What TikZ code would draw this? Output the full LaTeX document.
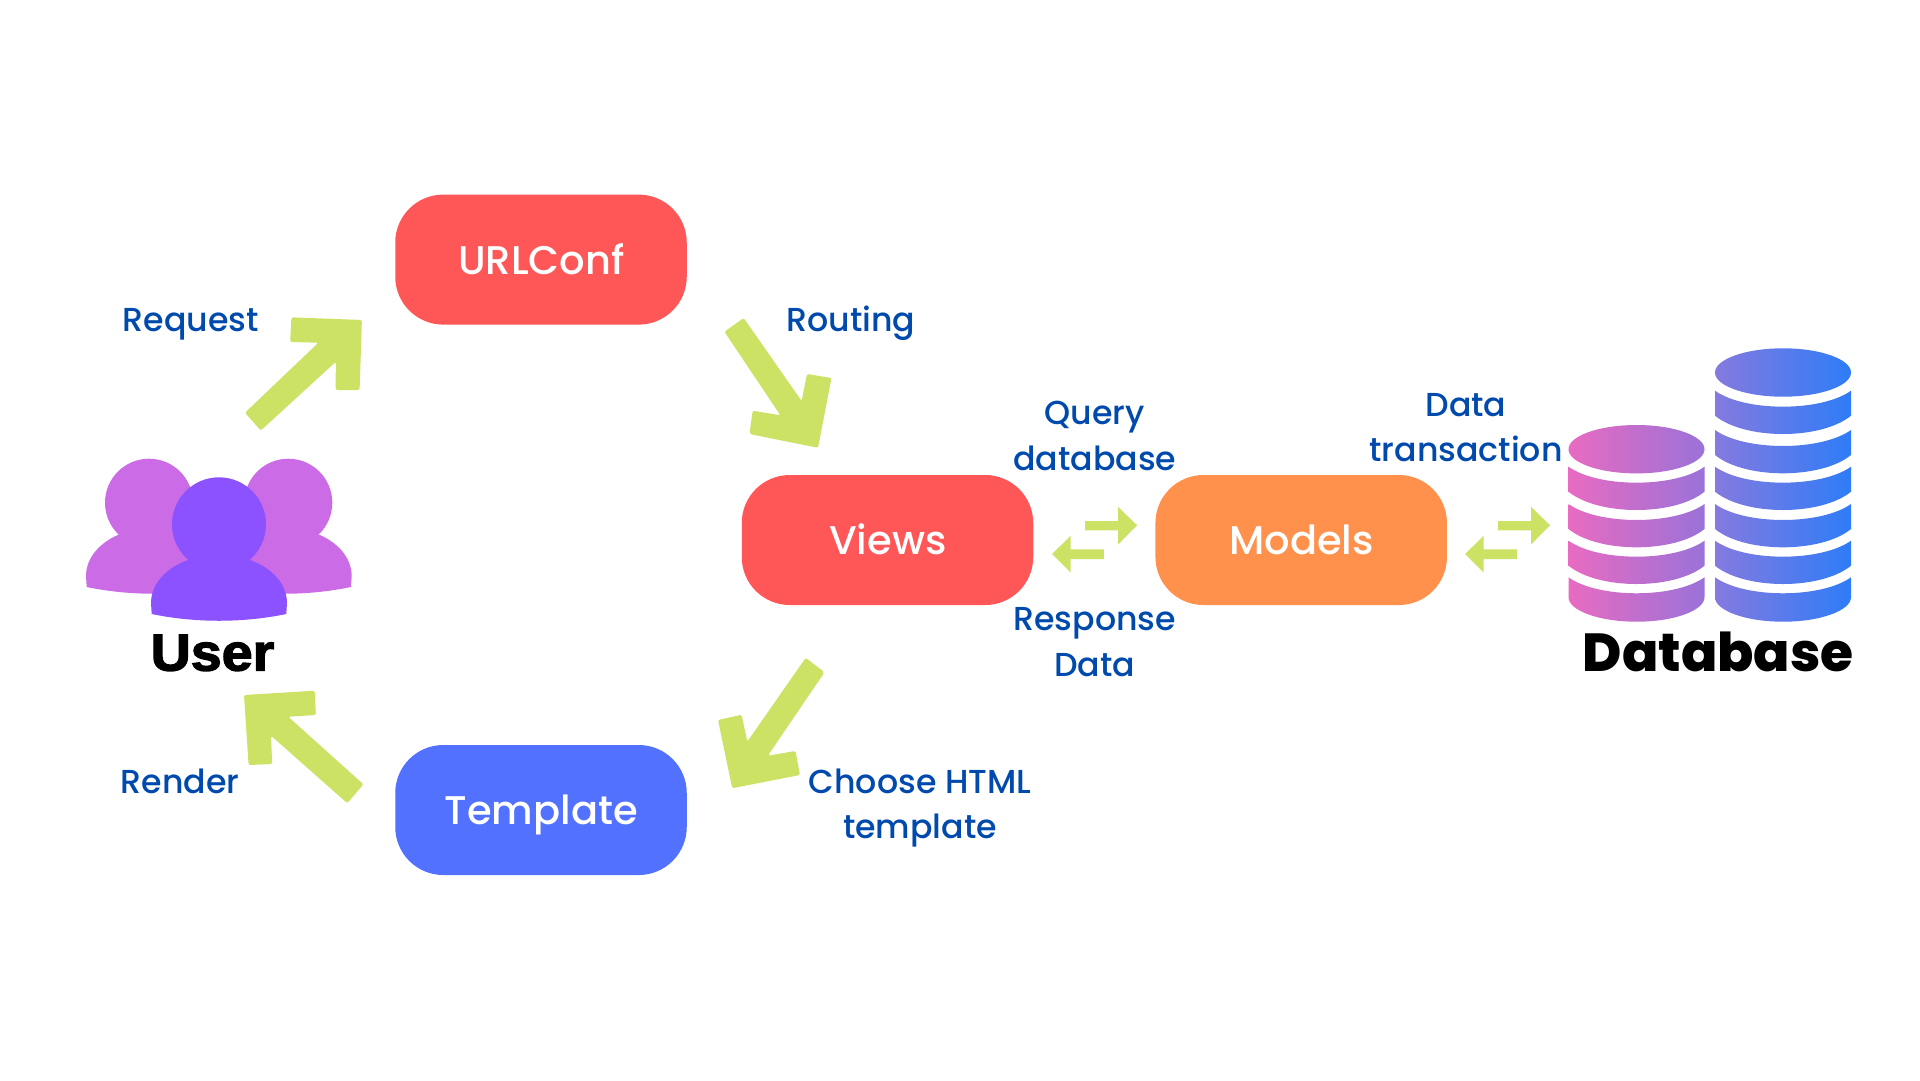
\documentclass[tikz,border=0pt]{standalone}
\usepackage{fontspec}
\setmainfont{Poppins}
\newfontfamily\labelfont{Poppins Medium}
\newfontfamily\dbfont{Poppins ExtraBold}
\newfontfamily\userfont[FakeBold=2.6,FakeStretch=1.07]{Liberation Sans Bold}
\definecolor{urlred}{HTML}{FF5757}
\definecolor{modelorange}{HTML}{FF914D}
\definecolor{tplblue}{HTML}{5271FF}
\definecolor{leaf}{HTML}{CBE265}
\definecolor{labelblue}{HTML}{004AAD}
\definecolor{backuser}{HTML}{CB6CE6}
\definecolor{frontuser}{HTML}{8C52FF}
\definecolor{pinkL}{HTML}{E86BC1}
\definecolor{pinkR}{HTML}{9A72D9}
\definecolor{blueL}{HTML}{857ADF}
\definecolor{blueR}{HTML}{2E7CF7}
\tikzset{
  stagebox/.style={rounded corners=48pt,minimum width=291.5pt,minimum height=130pt,inner sep=0pt,text=white,font=\fontsize{40}{48}\selectfont},
  boxtext/.style={inner sep=0pt,anchor=base,text=white,font=\fontsize{40}{48}\labelfont},
  lbl/.style={inner sep=0pt,anchor=base,align=center,text=labelblue,font=\fontsize{33.2}{45.5}\labelfont},
  bigarrow/.style={fill=leaf,rounded corners=2pt},
  smallarrow/.style={fill=leaf},
  stackL/.style={left color=pinkL,right color=pinkR,draw=none},
  stackR/.style={left color=blueL,right color=blueR,draw=none},
}
\newcommand{\diskband}[3]{% style, centre x, top-side y
  \path[#1] ({#2-68},#3) .. controls ({#2-38},{#3+21.3}) and ({#2+38},{#3+21.3}) .. ({#2+68},#3)
    -- ({#2+68},{#3+25}) .. controls ({#2+38},{#3+49.4}) and ({#2-38},{#3+49.4}) .. ({#2-68},{#3+25}) -- cycle;}
\newcommand{\diskbottom}[3]{%
  \path[#1] ({#2-68},#3) .. controls ({#2-38},{#3+21.3}) and ({#2+38},{#3+21.3}) .. ({#2+68},#3)
    -- ({#2+68},{#3+20}) .. controls ({#2+68},{#3+33}) and ({#2+38},{#3+44.4}) .. (#2,{#3+44.4})
    .. controls ({#2-38},{#3+44.4}) and ({#2-68},{#3+33}) .. ({#2-68},{#3+20}) -- cycle;}
\newcommand{\disktop}[3]{%
  \path[#1] ({#2-68},#3) .. controls ({#2-68},{#3-13.3}) and ({#2-37.5},{#3-24.2}) .. (#2,{#3-24.2})
    .. controls ({#2+37.5},{#3-24.2}) and ({#2+68},{#3-13.3}) .. ({#2+68},#3)
    .. controls ({#2+68},{#3+13.3}) and ({#2+37.5},{#3+24.2}) .. (#2,{#3+24.2})
    .. controls ({#2-37.5},{#3+24.2}) and ({#2-68},{#3+13.3}) .. ({#2-68},#3) -- cycle;}
\newcommand{\personbody}[3]{% colour, centre x, neck y
  \path[fill=#1] ({#2-31},#3) .. controls ({#2-54},{#3+8}) and ({#2-68},{#3+25}) .. ({#2-68},{#3+43})
    -- ({#2-67.3},{#3+54}) .. controls ({#2-24},{#3+63}) and ({#2+24},{#3+63}) .. ({#2+67.3},{#3+54})
    -- ({#2+68},{#3+43}) .. controls ({#2+68},{#3+25}) and ({#2+54},{#3+8}) .. ({#2+31},#3) -- cycle;}
\begin{document}
\begin{tikzpicture}[x=1pt,y=-1pt]
\useasboundingbox (0,0) rectangle (1920,1080);
\fill[white] (0,0) rectangle (1920,1080);

% stage boxes
\node[stagebox,fill=urlred] (urlbox) at (541,259.6) {};
\node[stagebox,fill=urlred] (viewsbox) at (887.5,540) {};
\node[stagebox,fill=modelorange] (modelsbox) at (1301.2,540) {};
\node[stagebox,fill=tplblue] (tplbox) at (541,810) {};
\node[boxtext] (urltext) at (541.3,274) {URLConf};
\node[boxtext] (viewstext) at (887.8,554) {Views};
\node[boxtext] (modelstext) at (1301.5,554) {Models};
\node[boxtext] (tpltext) at (541.3,824) {Template};

% large arrows
\path[bigarrow] (245,412.7) -- (260.8,430.5) -- (335.9,361.7) -- (335.5,390) -- (359.6,390) -- (361.9,320) -- (291.4,317.3) -- (290.2,342) -- (318.4,342.7) -- cycle;
\path[bigarrow] (724.4,331.7) -- (743.7,318) -- (801.6,401) -- (807,374) -- (831.5,378) -- (818,447.8) -- (749.4,434) -- (752.7,410.7) -- (780.4,415.3) -- cycle;
\path[bigarrow] (363.4,784.3) -- (347.3,803.2) -- (271,735.7) -- (272.2,764) -- (248.6,765) -- (244,695) -- (314.7,690.7) -- (315.9,715) -- (288.2,716.7) -- cycle;
\path[bigarrow] (805.7,657.8) -- (824.5,672.3) -- (767.8,755.7) -- (795.5,751) -- (800,775) -- (732.2,788.2) -- (718,720) -- (741.6,714.7) -- (747.3,741.7) -- cycle;

% small arrow pairs
\foreach \dx in {0,413} {
  \begin{scope}[xshift=\dx pt]
  \path[smallarrow] (1085,521) -- (1118.2,521) -- (1118.2,507) -- (1137.1,525.3) -- (1118.2,544.3) -- (1118.2,530.3) -- (1085,530.3) -- cycle;
  \path[smallarrow] (1052.1,554) -- (1070.7,535.7) -- (1070.7,549.3) -- (1103.9,549.3) -- (1103.9,559) -- (1070.7,559) -- (1070.7,572.7) -- cycle;
  \end{scope}
}

% users
\fill[backuser] (149,502.7) circle[radius=44];
\fill[backuser] (288.3,502.7) circle[radius=44];
\personbody{backuser}{154}{533}
\personbody{backuser}{283.7}{533}
\fill[frontuser] (219,524.3) circle[radius=47];
\personbody{frontuser}{219}{560}

% database
\disktop{stackL}{1636.5}{449.2}
\diskband{stackL}{1636.5}{466.7}
\diskband{stackL}{1636.5}{504}
\diskband{stackL}{1636.5}{540.7}
\diskbottom{stackL}{1636.5}{577.3}
\disktop{stackR}{1783}{372.5}
\diskband{stackR}{1783}{390.7}
\diskband{stackR}{1783}{430}
\diskband{stackR}{1783}{466.7}
\diskband{stackR}{1783}{504}
\diskband{stackR}{1783}{540.7}
\diskbottom{stackR}{1783}{577.3}

% titles
\node[inner sep=0pt,anchor=base] (usertitle) at (212.5,670.5) {\fontsize{52}{60}\selectfont\userfont User};
\node[inner sep=0pt,anchor=base] (dbtitle) at (1718.3,671) {\fontsize{53.5}{60}\selectfont\dbfont Database};

% labels
\node[lbl] (reqlabel) at (191,331.2) {Request};
\node[lbl] (routelabel) at (851,331.2) {Routing};
\node[lbl] (querylabel) at (1094.7,470) {Query\\database};
\node[lbl] (txlabel) at (1466,461.5) {Data\\transaction};
\node[lbl] (resplabel) at (1094.7,676) {Response\\Data};
\node[lbl] (renderlabel) at (180,793.3) {Render};
\node[lbl] (chooselabel) at (920,838.8) {Choose HTML\\template};
\end{tikzpicture}
\end{document}
